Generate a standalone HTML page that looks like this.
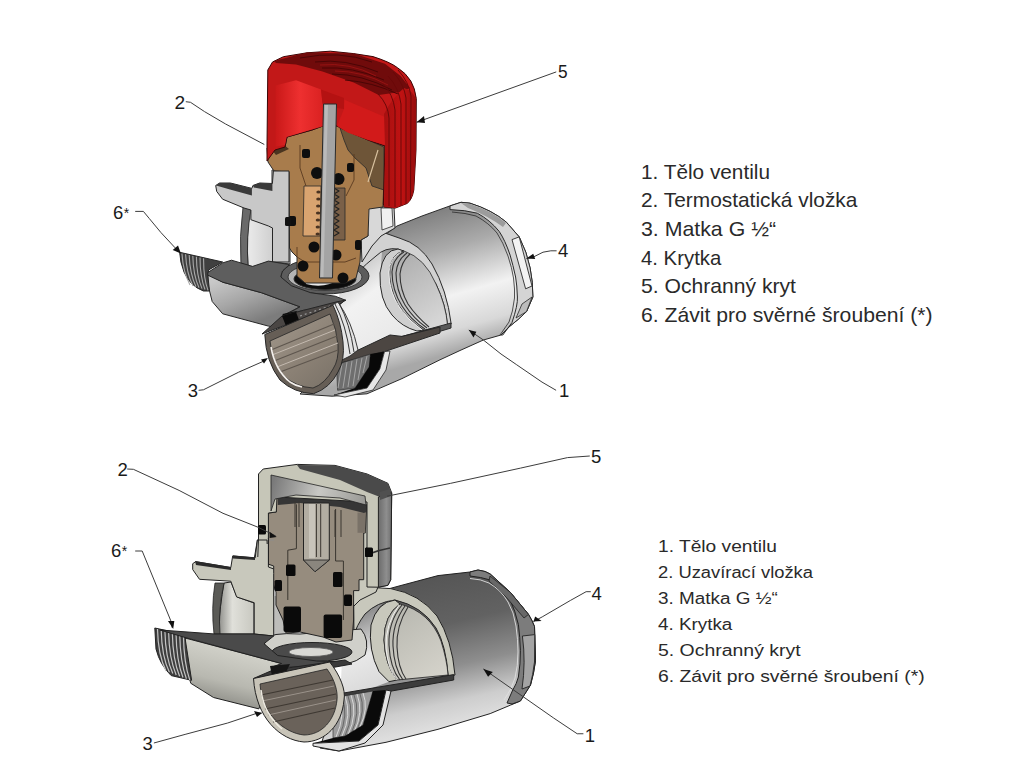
<!DOCTYPE html>
<html><head><meta charset="utf-8">
<style>
html,body{margin:0;padding:0;background:#fff;width:1024px;height:768px;overflow:hidden}
svg{position:absolute;left:0;top:0}
</style></head><body>
<svg width="1024" height="768" viewBox="0 0 1024 768">
<defs>
  <linearGradient id="intG" gradientUnits="userSpaceOnUse" x1="340" y1="260" x2="400" y2="340">
    <stop offset="0" stop-color="#b8b8b8"/>
    <stop offset="0.45" stop-color="#f2f2f2"/>
    <stop offset="1" stop-color="#e8e8e8"/>
  </linearGradient>
  <linearGradient id="openG" gradientUnits="userSpaceOnUse" x1="400" y1="260" x2="440" y2="320">
    <stop offset="0" stop-color="#b0b0b0"/>
    <stop offset="1" stop-color="#d6d6d6"/>
  </linearGradient>
  <linearGradient id="cylG" gradientUnits="userSpaceOnUse" x1="440" y1="205" x2="480" y2="345">
    <stop offset="0" stop-color="#7c7c7c"/>
    <stop offset="0.3" stop-color="#ababab"/>
    <stop offset="0.62" stop-color="#f2f2f2"/>
    <stop offset="0.85" stop-color="#d8d8d8"/>
    <stop offset="1" stop-color="#a8a8a8"/>
  </linearGradient>
  <linearGradient id="pipeG" gradientUnits="userSpaceOnUse" x1="230" y1="275" x2="250" y2="325">
    <stop offset="0" stop-color="#c8c8c8"/>
    <stop offset="0.5" stop-color="#a6a6a6"/>
    <stop offset="1" stop-color="#7c7c7c"/>
  </linearGradient>
  <linearGradient id="redIn" gradientUnits="userSpaceOnUse" x1="275" y1="0" x2="325" y2="0">
    <stop offset="0" stop-color="#c81818"/>
    <stop offset="0.5" stop-color="#ee3030"/>
    <stop offset="1" stop-color="#d82020"/>
  </linearGradient>
  <linearGradient id="ribG" gradientUnits="userSpaceOnUse" x1="385" y1="0" x2="418" y2="0">
    <stop offset="0" stop-color="#a81010"/>
    <stop offset="0.5" stop-color="#c01212"/>
    <stop offset="1" stop-color="#900c0c"/>
  </linearGradient>
  <linearGradient id="innerPipeG" gradientUnits="userSpaceOnUse" x1="235" y1="0" x2="272" y2="0">
    <stop offset="0" stop-color="#9a9a9a"/>
    <stop offset="0.4" stop-color="#e8e8e8"/>
    <stop offset="1" stop-color="#d0d0d0"/>
  </linearGradient>
  <linearGradient id="nutFace" gradientUnits="userSpaceOnUse" x1="270" y1="320" x2="330" y2="390">
    <stop offset="0" stop-color="#a0968a"/>
    <stop offset="0.6" stop-color="#8a8074"/>
    <stop offset="1" stop-color="#7a7268"/>
  </linearGradient>
</defs>
<g stroke="#2a2a2a" stroke-width="1" stroke-linejoin="round">
  <!-- right cylinder -->
  <path fill="url(#cylG)" d="M378,240 L397,226 L422,216 L450,205.9 L461,202.3 L470,203.2 Q492,210 506.5,222.3 L519.2,236.9 Q527,252 530.1,267.9 Q533,282 532.9,297 L526.5,311.6 Q518,320 510,326.1 L501,335 L483.4,340 L460,350.5 L440,359.8 L402,378.6 L367,393.8 L332,396.2 L300,394 L330,365 L345,330 L360,300 Z"/>
  <!-- cap 4 ring -->
  <path fill="#d4d4d4" d="M450,205.9 L461,202.3 L470,203.2 Q492,210 506.5,222.3 L519.2,236.9 Q527,252 530.1,267.9 Q533,282 532.9,297 L526.5,311.6 Q518,320 510,326.1 L501,335 L502.8,335 L512,322.5 Q518,305 517.4,297 Q517,285 515.6,277 Q513,265 510.1,255.1 Q505,240 499.2,231.4 Q490,220 477.3,213.2 Q465,210 450,209.6 Z"/>
  <path fill="#9c9c9c" stroke="none" d="M461,203 L470,204 Q492,211 506,223 L503,227 Q488,216 468,208 Z"/>
  <path fill="none" stroke-width="0.8" d="M452,212 Q466,213 476,216 Q489,223 497,233 Q503,242 508,256 Q512,268 513.5,278 Q515,290 514.5,298 Q513,312 509,322 L500,335"/>
  <path fill="#f2f2f2" stroke-width="0.9" d="M512,239.6 L519.2,236.9 L532,286 L525.6,288.8 Z"/>
  <path fill="#bcbcbc" stroke-width="0.8" d="M522,304 L532,297 L526.5,311.6 L516,318 Z"/>
  <!-- opening -->
  <path fill="url(#intG)" stroke="none" d="M350,250 L383,246 Q378,275 386,300 Q397,320 417,331 L451,324 L336,362 L338,300 Z"/>
  <path fill="#d2d2d2" d="M360,236.5 L371,231 L382,232 L400,238.3 Q420,244 432,264 Q447,290 451.2,324 L447.6,325.8 Q446,305 436,284 Q420,256 398,249 Q385,247 376,256 Q366,264 358,272 Z"/>
  <path fill="#cfcfcf" d="M398,249 Q383,250 380,273 Q379,300 392,315 Q402,327 417,331 L424,330 Q408,320 398,304 Q388,285 390,268 Q392,254 404,251 Z"/>
  <path fill="url(#openG)" stroke-width="0.8" d="M404,251 Q425,258 436,284 Q446,305 447.6,325.8 L424,330 Q408,320 398,304 Q388,285 390,268 Q392,254 404,251 Z"/>
  <path fill="none" stroke="#333" stroke-width="1.1" d="M404,252 Q393,258 392,272 Q392,290 402,306 Q411,320 425,329 M407,253 Q397,260 396,273 Q396,290 405,305 Q413,318 427,328 M410,254 Q401,262 400,274 Q400,290 408,304 Q416,316 429,327"/>
  <path fill="none" stroke="#fff" stroke-width="0.8" d="M401,252 Q390,258 389,272 Q389,292 400,308 Q409,321 422,330"/>
  <!-- cut band -->
  <path fill="#585858" d="M335,360 L400,337 L451,323 L451,328 L398,344 L336,366 Z"/>
  <!-- neck right wall -->
  <path fill="#d8d8d8" d="M366,207 L394,207 L395,228 L381,236 L372,246 L362,262 L361,240 L368,236 Z"/>
  <path fill="#f0f0f0" stroke-width="0.8" d="M381,208 L392,208 L393,226 L382,230 Z"/>
</g>
<g stroke="#2a2a2a" stroke-width="1" stroke-linejoin="round">
  <!-- neck left wall (grey section) -->
  <path fill="#d2d2d2" d="M272,170 L290,170 L290,250 L290,264 L272,262 Z"/>
  <!-- seat dark face ellipse -->
  <ellipse cx="325" cy="276" rx="44" ry="18" fill="#5c5c5c"/>
  <ellipse cx="325" cy="277" rx="37" ry="13.5" fill="#b4b4b4" stroke-width="0.8"/>
  <ellipse cx="325" cy="279" rx="31" ry="10.5" fill="#0c0c0c"/>
  <path fill="#e8e8e8" stroke="none" d="M306,280 Q318,273 340,279 Q325,289 306,284 Z"/>
  <!-- brass insert -->
  <path fill="#a87c4c" d="M267,148 L268,162 L274,171 L289,172 L289.5,248 L292,252 L297,257 L297,276 L305,283 L345,283 L356,278 L360,262 L361,240 L368,236 L369,209 L383,207 L385,146 L368,140 L347,131 L337,126 L323,126 L312,130 L287,137 L285,147 Z"/>
  <path fill="#4a3520" stroke="none" d="M272,150 L284,145 L289,149 L276,155 Z"/>
  <path fill="#6e5538" stroke-width="0.8" d="M340,128 L368,140 L384,147 L384,190 L372,186 L366,168 L355,158 L348,150 L344,140 Z"/>
  <path fill="none" stroke="#d9c2a0" stroke-width="1.2" d="M378,150 L368,182"/>
  <path fill="#d9a470" stroke-width="0.8" d="M304,186 L321,186 L320,236 L303,236 Z"/>
  <path fill="#7a6048" stroke-width="0.8" d="M331,188 L345,188 L345,240 L331,240 Z"/>
  <path fill="none" stroke="#5a3a20" stroke-width="0.9" d="M300,145 L300,168 L306,186 M354,154 L354,180 L346,196 M297,257 L305,262 L345,262 L356,258 M297,257 L297,247"/>
  <!-- spring coils -->
  <g fill="#4a3322" stroke="none">
    <ellipse cx="318.5" cy="192" rx="2.2" ry="1.6"/><ellipse cx="318.4" cy="199" rx="2.2" ry="1.6"/><ellipse cx="318.2" cy="206" rx="2.2" ry="1.6"/><ellipse cx="318.1" cy="213" rx="2.2" ry="1.6"/><ellipse cx="317.9" cy="220" rx="2.2" ry="1.6"/><ellipse cx="317.8" cy="227" rx="2.2" ry="1.6"/><ellipse cx="317.7" cy="234" rx="2.2" ry="1.6"/>
  </g>
  <path fill="none" stroke="#222" stroke-width="1.2" d="M334,188 l5,3 l-5,3 l5,3 l-5,3 l5,3 l-5,3 l5,3 l-5,3 l5,3 l-5,3 l5,3 l-5,3 l5,3 l-5,3 l5,3 l-5,3"/>
  <!-- o-rings -->
  <g fill="#0e0e0e" stroke="none">
    <rect x="302" y="149" width="8" height="9" rx="2"/>
    <rect x="347" y="163" width="7" height="9" rx="2"/>
    <circle cx="317" cy="173" r="6"/>
    <circle cx="338.5" cy="179" r="6"/>
    <rect x="288" y="216" width="8" height="10" rx="2"/>
    <circle cx="314" cy="247" r="5.5"/>
    <circle cx="336" cy="255" r="5.5"/>
    <rect x="355" y="240" width="6.5" height="10" rx="2"/>
    <circle cx="303" cy="266" r="5.5"/>
    <circle cx="343" cy="278" r="5.5"/>
  </g>
  <!-- stem -->
  
</g>
<g stroke="#3a0606" stroke-width="1" stroke-linejoin="round">
  <!-- red cap silhouette -->
  <path fill="#c21818" d="M267,161 L267,145 L267.8,70 L272.5,62 L283.4,56.7 L306.9,52.8 L330.3,51.2 L353.7,53.6 L373,56.6 Q390,62 397.5,67.7 Q406,73 410.8,81 Q415,88 416.3,98.6 L416,150 L413.8,190 Q412,200 407,203.5 L395.3,208.1 L384.2,207 L383.4,204 L385,146 L368,140 L347,131 L337,126 L323,126 L312,130 L287,137 L285,147 L275,150 Z"/>
  <!-- dark top surface -->
  <path fill="#700b0b" stroke="none" d="M274,61 L306.9,52.5 L353.7,53.6 L385,63.7 L400.6,76 L410,88 L400,92 L378.7,95 L353.7,82.5 L322.5,71.6 L296,64.5 L276,63 Z"/>
  <path fill="none" stroke="#4a0505" stroke-width="1" d="M300,58 Q340,50 372,62 M315,62 Q345,58 378,72 M322,68 Q352,66 384,80 M332,74 Q362,74 392,90 M345,80 Q372,82 398,94"/>
  <path fill="none" stroke="#a01414" stroke-width="0.8" d="M320,65 Q350,62 376,76 M335,71 Q362,71 388,85"/>
  <!-- inner surface left -->
  <path fill="url(#redIn)" stroke="none" d="M275.6,85.6 L296,80.2 L321,89.5 L322.5,103.6 L324,106 L324,126 L311.6,129.4 L286.6,137 L285,145 L275.6,146.6 Z"/>
  <!-- boss -->
  <path fill="#b41212" stroke="none" d="M321,89.5 L344,98 L344,109 L337,108 L336.6,104 L324,104 L322.5,103.6 Z"/>
  <!-- inner surface right -->
  <path fill="#d21a1a" stroke="none" d="M344.4,99.7 L385,117 L385,145 L367.8,140 L347.5,132.5 L337,126 L344,109 Z"/>
  <!-- right ribbed surface -->
  <path fill="url(#ribG)" stroke="none" d="M384,114 Q392,98 404,88 Q412,90 416,99 L416,150 L413.8,190 Q412,200 407,203.5 L395.3,208.1 L384.2,207 L385,146 Z"/>
  <path fill="none" stroke="#6a0808" stroke-width="1" d="M389,206 L389,118 Q388,104 378,94 M395,207 L395,110 Q393,94 383,84 M401,206 L401,104 Q399,88 388,76 M406,204 L406,98 Q404,84 393,72 M410.5,200 L411,96 Q409,82 398,70"/>
</g>
<!-- stem over cap -->
<path fill="#a4a4a4" stroke="#2a2a2a" stroke-width="1" d="M323.5,104 L336.5,104 L332.5,278 L319.5,278 Z"/>
<path fill="#bababa" stroke="none" d="M325,105 L328,105 L323.5,277 L320.5,277 Z"/>
<g stroke="#262626" stroke-width="1" stroke-linejoin="round">
  <!-- inner pipe curved surface -->
  <path fill="url(#innerPipeG)" d="M250,209 L272.5,226 L272.5,262 L258,268 L248,266 Q246,235 250,209 Z"/>
  <path fill="#6a6a6a" stroke-width="0.8" d="M243,207 L251,209 Q246,237 248,266 L241,266 Q239,236 243,207 Z"/>
  <!-- flange arm cut face -->
  <path fill="#c8c8c8" d="M215.7,185.5 L219.6,183 L230.4,183 L251.9,188.4 L252.9,185.5 L259.7,183 L272.4,183.5 L273.4,171 L289,171 L289,262 L272.5,262 L272.5,228 L268.5,226 L250.9,219.7 L250.9,210 L244,208 L222.6,199.2 L216.7,191.4 Z"/>
  <path fill="#3a3a3a" stroke="none" d="M216,185.5 L219.6,183 L230.4,183 L251.9,188.4 L251.9,195.5 L230,189.5 L219.6,186.5 Z M252.9,185.5 L259.7,183 L272.4,183.5 L272.4,191 L253.8,187.5 Z"/>
  <rect x="285" y="217" width="6" height="9" rx="1.5" fill="#111" stroke="none"/>
  <!-- lower pipe outer surface -->
  <path fill="url(#pipeG)" d="M207.8,273.4 L222.7,282.2 L261.4,292.7 L300,306.8 L282.5,315.6 L279,327.9 L268.4,326.1 L222.7,313.8 L212.2,301.5 L207.8,284 Z"/>
  <!-- threaded end -->
  <path fill="#404040" d="M179.7,252.3 L222.7,262 L208.7,269.9 L207.8,275.2 L209.5,291 L203.4,291 Q190,286 184,272 Q180,262 179.7,252.3 Z"/>
  <path fill="none" stroke="#a8a8a8" stroke-width="1.1" d="M182.0,253.5 Q183.0,272.0 190.0,285.0 M185.6,254.3 Q186.4,273.0 193.0,285.9 M189.2,255.1 Q189.8,274.0 196.0,286.8 M192.8,255.9 Q193.2,275.0 199.0,287.7 M196.4,256.7 Q196.6,276.0 202.0,288.6 M200.0,257.5 Q200.0,277.0 205.0,289.5 M203.6,258.3 Q203.4,278.0 208.0,290.4"/>
  <!-- top dark cut face -->
  <path fill="#5e5e5e" d="M207.8,272.5 L222.7,262.9 L231.5,260.2 L252.6,266.4 L268.4,261.1 L289.5,264.6 L282.5,270.8 L280.7,276.9 L291.3,285.7 L310.6,292.7 L335.2,296.2 L345,300 L336,308 L303.6,310.3 L284.3,315.6 L300,306.8 L261.4,292.7 L222.7,282.2 L207.8,275.2 Z"/>
  <path fill="#0c0c0c" stroke="none" d="M282.5,314 L296.6,311 L300,322 L286,326 Z"/>
  <!-- nut 3 -->
  <path fill="#4c4642" d="M335,361 L390,335 L402,336.4 L440,327 L440,333 L384.5,351.6 L335,364.5 Z"/>
  <path fill="#6e6e6e" stroke-width="0.6" d="M336.4,364.5 L370.4,354 L369.2,367 L355,388 L337.6,390.3 Z"/>
  <path fill="none" stroke="#b4b4b4" stroke-width="0.8" d="M342,364 L338,388 M347,362 L343,388 M352,361 L348,387 M357,359 L353,386 M362,358 L358,380 M367,356 L363,373"/>
  <path fill="#080808" stroke="none" d="M370.4,354 L384.5,351.6 L379.8,369 L367,388 L334,395 L355,388 L369,367 Z"/>
  <path fill="#e6e6e6" stroke-width="0.8" d="M384.5,351.6 L390,351 L386,370 L373,390 L345,397 L334,395 L367,388 L379.8,369 Z"/>
  <path fill="#4a4644" d="M262,334 L282,316 L303.6,310.3 L336,302 L346,300 L338,305 Z"/>
  <path fill="#0a0a0a" stroke="none" d="M282,316 L296,312 L299,320 L286,326 Z"/>
  <path fill="none" stroke="#9a9a9a" stroke-width="1.2" stroke-dasharray="2,3" d="M300,316 L330,306"/>
  <path fill="#e4e4e4" stroke-width="0.9" d="M330,306 L338,302 Q352,322 358,350 L350,356 L338,362 Q339,332 330,306 Z"/>
  <path fill="none" stroke="#333" stroke-width="1" d="M335,304 Q346,325 350,354 M339,303 Q350,324 354,352"/>
  <path fill="#665e56" d="M264.8,334.5 L333,305.2 Q341,322 343,342 Q345,360 338,372 Q330,388 313.6,393.7 Q294,393 280,380 Q266,362 264.8,334.5 Z"/>
  <path fill="url(#nutFace)" stroke-width="0.8" d="M270,341 L330,314 Q337,330 338,345 Q339,360 333,369 Q325,384 313,388 Q296,387 284,376 Q272,361 270,341 Z"/>
  <path fill="none" stroke="#5e564e" stroke-width="1.2" d="M271,350 L334,324 M274,361 L337,336 M280,372 L338,350"/>
  <path fill="none" stroke="#c4bab0" stroke-width="1" d="M272,355 L335,330 M277,367 L338,343"/>
  <path fill="none" stroke="#f4f0ec" stroke-width="1.6" d="M271,347 Q275,370 290,382 Q296,386 302,387"/>
</g>
<defs>
  <linearGradient id="bcylG" gradientUnits="userSpaceOnUse" x1="440" y1="572" x2="478" y2="740">
    <stop offset="0" stop-color="#555555"/>
    <stop offset="0.3" stop-color="#626262"/>
    <stop offset="0.55" stop-color="#8e8e8e"/>
    <stop offset="0.75" stop-color="#cdcdcd"/>
    <stop offset="0.88" stop-color="#dedede"/>
    <stop offset="1" stop-color="#b8b8b8"/>
  </linearGradient>
  <linearGradient id="bpipeG" gradientUnits="userSpaceOnUse" x1="230" y1="645" x2="215" y2="705">
    <stop offset="0" stop-color="#d4d4cc"/>
    <stop offset="0.6" stop-color="#b8b8b0"/>
    <stop offset="1" stop-color="#8a8a84"/>
  </linearGradient>
  <linearGradient id="bintG" gradientUnits="userSpaceOnUse" x1="350" y1="620" x2="380" y2="690">
    <stop offset="0" stop-color="#909090"/>
    <stop offset="0.5" stop-color="#e8e8e8"/>
    <stop offset="1" stop-color="#d8d8d8"/>
  </linearGradient>
  <linearGradient id="bopenG" gradientUnits="userSpaceOnUse" x1="395" y1="610" x2="440" y2="675">
    <stop offset="0" stop-color="#b8b8b0"/>
    <stop offset="1" stop-color="#d4d2ca"/>
  </linearGradient>
  <linearGradient id="bcapIn" gradientUnits="userSpaceOnUse" x1="275" y1="475" x2="365" y2="500">
    <stop offset="0" stop-color="#7a7a7a"/>
    <stop offset="0.5" stop-color="#c8c8c4"/>
    <stop offset="1" stop-color="#9a9a96"/>
  </linearGradient>
  <linearGradient id="bcapR" gradientUnits="userSpaceOnUse" x1="378" y1="0" x2="392" y2="0">
    <stop offset="0" stop-color="#6a6a6a"/>
    <stop offset="0.6" stop-color="#8e8e8e"/>
    <stop offset="1" stop-color="#6e6e6e"/>
  </linearGradient>
  <linearGradient id="binPipe" gradientUnits="userSpaceOnUse" x1="218" y1="0" x2="254" y2="0">
    <stop offset="0" stop-color="#8a8a86"/>
    <stop offset="0.4" stop-color="#e0e0da"/>
    <stop offset="1" stop-color="#c8c8c0"/>
  </linearGradient>
</defs>
<g stroke="#222" stroke-width="1" stroke-linejoin="round">
  <!-- cylinder -->
  <path fill="url(#bcylG)" d="M370,594 L399,586 L438,575.6 L470,572 L478,570 Q486,571 490.2,574 L510.3,592.3 L528.5,614.4 Q532,620 534.5,626.5 L535.5,660.8 Q534,673 530.5,685 L520.4,701 L510.3,705.2 L490.2,713.6 L438,729.3 L386,742.3 L339,751 L320,748 L335,700 L352,650 Z"/>
  <!-- cap 4 ring -->
  <path fill="#7c7c7c" d="M470,572 L478,570 Q486,571 490.2,574 L510.3,592.3 L528.5,614.4 Q532,620 534.5,626.5 L535.5,660.8 Q534,673 530.5,685 L520.4,701 L512,704 L507,703 L512.3,691 Q517,683 518.4,677 Q520.5,664 520.4,650.7 Q520,637 518.4,624.5 Q515,610 510.3,600.3 Q502,588 490.2,580 Q481,577 470,576 Z"/>
  <path fill="#686868" stroke-width="0.8" d="M490,576 L510.3,592.3 L528.5,614.4 L524,618 L506,597 L489,581 Z"/>
  <path fill="#a4a4a4" stroke-width="0.9" d="M522.4,636 L534.8,634.6 L534.5,662 Q533,675 530,686 L522,689 Q526,662 522.4,636 Z"/>
  <path fill="none" stroke="#e0e0e0" stroke-width="0.9" d="M470,578.5 Q481,579 489,583 Q501,590 508,602 Q514,612 516,626 Q518,640 518,652 Q518,666 515,678 Q512,689 504,700"/>
  <!-- interior left of opening -->
  <path fill="url(#bintG)" stroke="none" d="M345,600 L365,596 L392,600 Q377,602 371,625 Q368,650 379,671.6 L389,681.7 L340,700 L342,660 Z"/>
  <!-- section face arch -->
  <path fill="#c8c8bc" d="M353.5,592 L363.7,587 L390.8,588.6 Q420,594 437,616 Q452,640 455,675 L448.3,676.6 Q446,645 436,628 Q422,606 395,600 Q377,602 365,614 Q356,626 354,636 Z"/>
  <path fill="#c8c8bc" d="M395,600 Q377,602 371,625 Q368,650 379,671.6 L389,681.7 L397,680 Q385,665 384,640 Q384,615 400,604 Z"/>
  <path fill="url(#bopenG)" stroke-width="0.8" d="M400,604 Q430,612 441,641 Q447,660 448,675 L397,680 Q385,665 384,640 Q384,615 400,604 Z"/>
  <path fill="none" stroke="#333" stroke-width="1.1" d="M402,605 Q388,622 389,645 Q390,668 400,680 M405,606 Q392,624 393,646 Q394,668 403,680 M408,607 Q396,626 397,647 Q398,668 406,679"/>
  <path fill="none" stroke="#fff" stroke-width="0.8" d="M399,605 Q385,625 386,648 Q388,670 397,680"/>
  <!-- cut band -->
  <path fill="#3c3c3c" d="M332,695 L385,686 L453.7,674.6 L453.7,680 L386,692 L335,700 Z"/>
  <!-- neck right wall -->
  <path fill="#c8c8bc" d="M367,490 L379,490 L378,587 L376,592 L372,594 L360,600 L350,610 L355,560 Z"/>
</g>
<g stroke="#222" stroke-width="1" stroke-linejoin="round">
  <!-- neck left section wall -->
  <path fill="#c8c8bc" d="M257.4,540 L268.4,540 L268.4,570 L273.7,573 L273.7,636 L254,634 L254,560 Z"/>
  <path fill="#bdbdba" stroke="none" d="M268,596 L292,596 L292,642 L268,642 Z"/>
  <!-- seat ring -->
  <path fill="#d0d0ca" d="M264,640 Q270,632 300,634 L361,629 Q370,640 365,655 Q350,668 315,667 Q275,664 266,652 Z"/>
  <ellipse cx="312" cy="652" rx="40" ry="9.5" fill="#4a4a4a"/>
  <ellipse cx="311" cy="652" rx="22" ry="4.5" fill="#d8d8d4" stroke="#555" stroke-width="0.8"/>
  <!-- insert -->
  <path fill="#968c7e" d="M268.4,513 L276.3,512 L276.3,497.5 L300,495 L340,497 L366.6,505 L365.3,533 L363.7,533 L363.7,579.7 L359,579.7 L359,590.6 L353.6,590.6 L353.6,620 L352,640 L336,642 L323,637 L300,632 L286,633 L283,620 L276,605 L276,592 L268.4,570 Z"/>
  <path fill="#7a7268" stroke="none" d="M357.5,512.5 L365.3,512.5 L365.3,532.8 L357.5,532.8 Z"/>
  <!-- insert top dark face -->
  <path fill="#363636" stroke="none" d="M277.8,496.5 L300,494 L340,496 L366.6,504 L366.6,512 L364,513 L340,507 L300,503 L277.8,505 Z"/>
  <!-- stem -->
  <path fill="#b2ada2" d="M303.5,503 L329.3,503 L329.3,560 L315,571.7 L303.5,560 Z"/>
  <path fill="#8a867e" stroke-width="0.8" d="M303.5,560 L329.3,560 L315,571.7 Z"/>
  <path fill="#c8c4ba" stroke="none" d="M309,504 L315,504 L315,558 L309,558 Z"/>
  <path fill="none" stroke="#3a3630" stroke-width="1" d="M295,501.5 L295,527 M299,501.5 L299,527 M316.4,504 L316.4,557 M320.7,504 L320.7,557 M335,510 L335,537 M341,510 L341,537 M287.8,600 L287.8,550.2 L296.4,548.7 L296.4,504.3 M335.6,509 L335.6,561 L343.4,561 L343.4,620"/>
  <g fill="#0a0a0a" stroke="none">
    <rect x="258" y="525" width="8" height="9.5" rx="1.5"/>
    <rect x="365" y="547.5" width="8" height="9.5" rx="1.5"/>
    <rect x="286" y="564.5" width="9.5" height="11.5" rx="1.5"/>
    <rect x="274.5" y="580" width="7.5" height="11" rx="1.5"/>
    <rect x="333" y="572" width="9.5" height="15" rx="1.5"/>
    <rect x="344" y="594.5" width="8" height="11.5" rx="1.5"/>
    <rect x="283.5" y="606.5" width="17.5" height="25.5" rx="2"/>
    <rect x="323.6" y="614.5" width="18.5" height="23.5" rx="2"/>
  </g>
  <path fill="none" stroke="#8c8c8c" stroke-width="1" d="M266,540 L274,540"/>
</g>
<g stroke="#222" stroke-width="1" stroke-linejoin="round">
  <!-- grey cap -->
  <path fill="#c6c6b8" d="M258.5,553 L258.5,474 L263.2,469 L297.2,464.4 L335,465.4 L367.1,474 L387.9,483.3 L391.7,492.8 L390.7,579.7 L387.9,585.3 L378.4,587.2 L367,587 L367,502 L277,497 L276.3,512 L268.4,513 L268.4,553 Z"/>
  <!-- top surface dark -->
  <path fill="#4a4a4a" stroke="none" d="M297,465 L335,465.5 L367,474 L388,483.5 L391.5,493 L380,497 L367,492 L340,480 L300,469 Z"/>
  <!-- inner top surface -->
  <path fill="url(#bcapIn)" stroke-width="0.8" d="M271,475 L365,496 L366,505 L340,498 L296,495 L275,499 L271,511 Z"/>
  <!-- right outer surface -->
  <path fill="url(#bcapR)" d="M378.4,497 L391.7,492.8 L390.7,579.7 L387.9,585.3 L378.4,587.2 Z"/>
  <path fill="none" stroke="#333" stroke-width="1.5" d="M366,555 Q378,550 390,548"/>
  <path fill="#505050" stroke="none" d="M380,492 L390,489 L391,496 L380,500 Z"/>
  <rect x="258" y="525" width="8" height="9.5" rx="1.5" fill="#0a0a0a" stroke="none"/>
  <rect x="365" y="547.5" width="8" height="9.5" rx="1.5" fill="#0a0a0a" stroke="none"/>
</g>
<g stroke="#222" stroke-width="1" stroke-linejoin="round">
  <!-- inner pipe surface -->
  <path fill="url(#binPipe)" d="M224,583 L231,582 L237,597 L254,603 L254,634 L218,634 Q220,605 224,583 Z"/>
  <path fill="#5a5a56" stroke-width="0.8" d="M215,583 L224,583 Q218,610 220,634 L214,634 Q211,608 215,583 Z"/>
  <!-- flange arm -->
  <path fill="#c8c8bc" d="M192.7,563.7 L195.6,561.7 L230.8,567.6 L232.7,555.9 L255.2,557.8 L257.4,540 L267,540 L268,564 L273.7,566 L273.7,573.4 L273.7,636 L254.2,634 L254.2,602.7 L236.6,596.9 L230.8,581.2 L199.5,579.3 L192.7,569.5 Z"/>
  <path fill="#2a2a2a" stroke="none" d="M195,561 L231,567 L231,570 L196,565 Z M233,555.5 L255,557.5 L255,560 L233,558.5 Z"/>
  <path fill="#c8c8bc" stroke="none" d="M258.9,544 L268,544 L268,566 L258.9,566 Z"/>
  <path fill="none" stroke="#222" stroke-width="1" d="M258.5,538 L257.8,557 M268.4,538 L268.4,567 L273.7,569"/>
  <!-- lower pipe outer surface -->
  <path fill="url(#bpipeG)" d="M185.1,638 L281.6,663.5 L270,672 L258.9,708.9 L213.5,697.5 L190.8,683.3 L185.1,663.5 Z"/>
  <!-- threaded end -->
  <path fill="#3e3e3e" d="M154.8,628 L186.9,635 L185.3,639.7 L191.6,680.3 L171.2,675.6 Q160,665 156,649 Z"/>
  <path fill="none" stroke="#c4c4c4" stroke-width="1.2" d="M157.5,629.0 Q158.0,655.0 166.0,671.0 M161.2,629.9 Q161.7,656.2 169.4,672.3 M164.9,630.7 Q165.4,657.4 172.8,673.6 M168.6,631.5 Q169.1,658.6 176.2,674.9 M172.3,632.4 Q172.8,659.8 179.6,676.2 M176.0,633.2 Q176.5,661.0 183.0,677.5 M179.7,634.1 Q180.2,662.2 186.4,678.8 M183.4,635.0 Q183.9,663.4 189.8,680.1"/>
  <!-- dark cut face -->
  <path fill="#4a4a4a" d="M160,630 L215,634 L254,634 L273.7,636 L264,643.7 L277.7,655.5 L316.7,661 L345,662 L328.4,666 L289.4,667.2 L271.8,667.2 L281.6,663.5 L185.1,637.5 Z"/>
  <!-- nut top face -->
  <path fill="#3a3a3a" d="M253.5,678.5 L273,670 L345,660 L352,664 L330,668 L265,684 Z"/>
  <path fill="#161616" stroke="none" d="M270,666 L290,664 L286,672 L272,676 Z"/>
  <!-- nut right: threads, black, white shell -->
  <path fill="#9c9c9c" stroke-width="0.6" d="M333,698 L373,691 L363,725 L345,736 L333,738 Z"/>
  <path fill="none" stroke="#e0e0e0" stroke-width="0.9" d="M339,697 Q346,715 336,737 M345,696 Q352,715 342,736 M351,695 Q358,713 348,735 M357,694 Q364,712 354,732 M363,693 Q369,708 360,727"/>
  <path fill="none" stroke="#505050" stroke-width="0.7" d="M342,697 Q349,715 339,737 M348,696 Q355,714 345,736 M354,695 Q361,712 351,734 M360,694 Q366,710 357,730"/>
  <path fill="#0a0a0a" stroke="none" d="M373,691 L386,690 L378,725 L359,741 L313,743.3 L333,738 L345,736 L363,725 Z"/>
  <path fill="#e2e2e2" d="M386,690 L391,691 L383,725 L365,743 L339,751 L313,746 L313,743.3 L359,741 L378,725 Z"/>
  <!-- nut left half -->
  <path fill="#c8c4b8" d="M253.5,678.5 L329.7,662 C340,675 346,690 344,700 C342,725 325,742 304,742 C280,740 256,718 253.5,678.5 Z"/>
  <path fill="#6a625a" stroke-width="0.8" d="M260,684 L327,669 C335,680 338,692 337,700 C335,720 322,735 304,735 C284,733 262,714 260,684 Z"/>
  <path fill="none" stroke="#3e3832" stroke-width="1.2" d="M261,695 L333,680 M265,709 L336,694 M273,722 L335,708"/>
  <path fill="none" stroke="#9a928a" stroke-width="1" d="M262,701 L334,686 M268,715 L336,700"/>
  <path fill="none" stroke="#eeeae0" stroke-width="1.5" d="M261,690 Q264,714 282,729"/>
</g>
<g id="labels" font-family="Liberation Sans, sans-serif" fill="#1a1a1a">
  <g font-size="18.5">
    <text x="174.5" y="109.3" textLength="10.7" lengthAdjust="spacingAndGlyphs">2</text>
    <text x="558" y="77.7" textLength="9.6" lengthAdjust="spacingAndGlyphs">5</text>
    <text x="112.9" y="219">6<tspan font-size="14" dx="0.5" dy="-1">*</tspan></text>
    <text x="558" y="256.6">4</text>
    <text x="559" y="397.3">1</text>
    <text x="187.8" y="397.1">3</text>
    <text x="117.6" y="476">2</text>
    <text x="590.9" y="462.7">5</text>
    <text x="110.9" y="557.2">6<tspan font-size="14" dx="0.5" dy="-1">*</tspan></text>
    <text x="591.4" y="599.9">4</text>
    <text x="584.8" y="741.6">1</text>
    <text x="142.5" y="750">3</text>
  </g>
</g>
<g id="leaders" fill="none" stroke="#3c3c3c" stroke-width="1">
  <polyline points="185.8,101.7 190.5,102.3 204.5,111.6 225.6,124 264.3,144.5"/>
  <polyline points="556.25,71.9 416.6,122.3"/>
  <polyline points="135.2,211.4 143.4,211.4 149.2,218.4 160.9,232.5 175,247.7 180.9,253.6"/>
  <polyline points="556.6,250.8 550.8,250.8 543,252.2 533.2,257.1 526.4,258.6"/>
  <polyline points="468.8,330 483.4,340 501,354 516.3,364.5 542,382.1 556.1,390.3"/>
  <polyline points="198.6,390.3 203.4,389.8 219,382 238.6,372.2 264,361"/>
  <polyline points="127.2,469 133.4,469.3 179.1,490.4 223,513.3 258.2,527.3 275.8,536"/>
  <polyline points="589.8,456 567.5,457.6 520.6,468.1 450.3,483.4 387,496.2"/>
  <polyline points="135.2,551 142.2,551 170.9,621 172.3,628"/>
  <polyline points="590.8,591.7 586.1,591.7 570.3,600.5 542.2,616.9 533.4,621.6"/>
  <polyline points="583.4,733.75 577.2,733.75 553.75,718.1 522.5,696.25 483.4,668.9"/>
  <polyline points="153.9,743 185.1,734.4 227.7,723 257.4,713.1 261.7,713.1"/>
</g>
<g id="arrows" fill="#111">
  <polygon points="416.6,122.3 424,116 425,123"/>
  <polygon points="172.7,250 178,245.4 180.9,253.6"/>
  <polygon points="526.4,258.6 533.2,253.7 535.2,259"/>
  <polygon points="468.8,330 476.4,331.7 473.5,337.6"/>
  <polygon points="261,359.5 267.9,358 264,363.4"/>
  <polygon points="269.6,531.7 276.7,537 269.6,537.9"/>
  <polygon points="168,621 174.3,621 173.2,628.9"/>
  <polygon points="533.4,621.6 535.2,616.4 541.6,621"/>
  <polygon points="483.4,668.9 492.8,672 488.1,676.7"/>
  <polygon points="254,711 262,713 257,717"/>
</g>
<g id="list1" font-family="Liberation Sans, sans-serif" font-size="19.8" fill="#2a2a2a" lengthAdjust="spacingAndGlyphs">
  <text x="641" y="178.8" textLength="129" lengthAdjust="spacingAndGlyphs">1. Tělo ventilu</text>
  <text x="641" y="207.4" textLength="216.4" lengthAdjust="spacingAndGlyphs">2. Termostatická vložka</text>
  <text x="641" y="235.9" textLength="135" lengthAdjust="spacingAndGlyphs">3. Matka G ½“</text>
  <text x="641" y="264.5" textLength="80.3" lengthAdjust="spacingAndGlyphs">4. Krytka</text>
  <text x="641" y="293.0" textLength="155" lengthAdjust="spacingAndGlyphs">5. Ochranný kryt</text>
  <text x="641" y="321.6" textLength="291.5" lengthAdjust="spacingAndGlyphs">6. Závit pro svěrné šroubení (*)</text>
</g>
<g id="list2" font-family="Liberation Sans, sans-serif" font-size="17.3" fill="#2a2a2a">
  <text x="658" y="551.6" textLength="119" lengthAdjust="spacingAndGlyphs">1. Tělo ventilu</text>
  <text x="658" y="577.6" textLength="155" lengthAdjust="spacingAndGlyphs">2. Uzavírací vložka</text>
  <text x="658" y="603.6" textLength="119.7" lengthAdjust="spacingAndGlyphs">3. Matka G ½“</text>
  <text x="658" y="629.6" textLength="74.3" lengthAdjust="spacingAndGlyphs">4. Krytka</text>
  <text x="658" y="655.6" textLength="142.6" lengthAdjust="spacingAndGlyphs">5. Ochranný kryt</text>
  <text x="658" y="681.6" textLength="266.8" lengthAdjust="spacingAndGlyphs">6. Závit pro svěrné šroubení (*)</text>
</g>
</svg>
</body></html>
